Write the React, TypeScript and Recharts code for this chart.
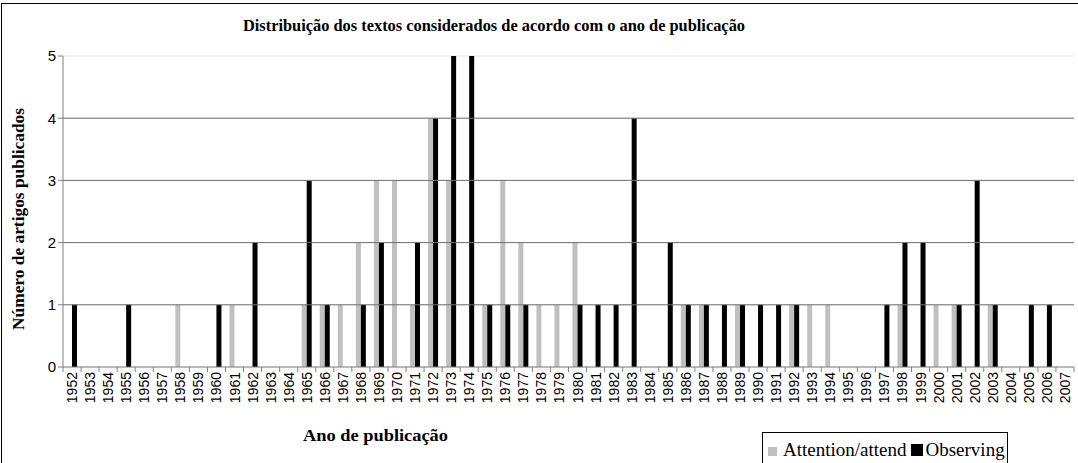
import React from 'react';
import { BarChart, Bar, XAxis, YAxis, CartesianGrid, ReferenceLine } from 'recharts';

const years = [
  '1952', '1953', '1954', '1955', '1956', '1957', '1958', '1959', '1960', '1961',
  '1962', '1963', '1964', '1965', '1966', '1967', '1968', '1969', '1970', '1971',
  '1972', '1973', '1974', '1975', '1976', '1977', '1978', '1979', '1980', '1981',
  '1982', '1983', '1984', '1985', '1986', '1987', '1988', '1989', '1990', '1991',
  '1992', '1993', '1994', '1995', '1996', '1997', '1998', '1999', '2000', '2001',
  '2002', '2003', '2004', '2005', '2006', '2007',
];

const attention = [
  0, 0, 0, 0, 0, 0, 1, 0, 0, 1,
  0, 0, 0, 1, 1, 1, 2, 3, 3, 1,
  4, 3, 0, 1, 3, 2, 1, 1, 2, 0,
  0, 0, 0, 0, 1, 1, 0, 1, 0, 0,
  1, 1, 1, 0, 0, 0, 1, 0, 1, 1,
  0, 1, 0, 0, 0, 0,
];

const observing = [
  1, 0, 0, 1, 0, 0, 0, 0, 1, 0,
  2, 0, 0, 3, 1, 0, 1, 2, 0, 2,
  4, 5, 5, 1, 1, 1, 0, 0, 1, 1,
  1, 4, 0, 2, 1, 1, 1, 1, 1, 1,
  1, 0, 0, 0, 0, 1, 2, 2, 0, 1,
  3, 1, 0, 1, 1, 0,
];

const yTicks = [0, 1, 2, 3, 4, 5];
const gridLines = [1, 2, 3, 4];

const chartData = years.map((year, i) => ({
  year,
  attention: attention[i],
  observing: observing[i],
}));

const W = 1078;
const H = 463;
const PLOT_LEFT = 63;
const PLOT_RIGHT = 1074;
const PLOT_TOP = 56;
const PLOT_BOTTOM = 367;
const BAND = (PLOT_RIGHT - PLOT_LEFT) / years.length;

const sans = '"Liberation Sans", Arial, sans-serif';
const serif = '"Liberation Serif", "Times New Roman", serif';

function YearTick(props: any) {
  const { x, payload, index } = props;
  const isLast = index === years.length - 1;
  return (
    <g>
      <line x1={x - BAND / 2} x2={x - BAND / 2} y1={PLOT_BOTTOM} y2={PLOT_BOTTOM + 5} stroke="#808080" />
      {isLast && (
        <line x1={x + BAND / 2} x2={x + BAND / 2} y1={PLOT_BOTTOM} y2={PLOT_BOTTOM + 5} stroke="#808080" />
      )}
      <text
        x={x + 5}
        y={PLOT_BOTTOM + 5}
        transform={`rotate(-90, ${x + 5}, ${PLOT_BOTTOM + 5})`}
        textAnchor="end"
        fontFamily={sans}
        fontSize={14}
        fill="#000"
      >
        {payload.value}
      </text>
    </g>
  );
}

function LegendBox() {
  return (
    <div
      style={{
        position: 'absolute',
        left: 762,
        top: 432,
        width: 246,
        height: 40,
        boxSizing: 'border-box',
        border: '1px solid #000',
        background: '#fff',
        fontFamily: serif,
        fontSize: 19,
        display: 'flex',
        alignItems: 'baseline',
        paddingTop: 6,
        paddingLeft: 5,
        color: '#000',
        lineHeight: '22px',
        whiteSpace: 'nowrap',
      }}
    >
      <span style={{ width: 9, height: 9, background: '#C0C0C0', display: 'inline-block', marginRight: 6 }} />
      <span>Attention/attend</span>
      <span style={{ width: 12, height: 12, background: '#000', display: 'inline-block', marginLeft: 5, marginRight: 2 }} />
      <span>Observing</span>
    </div>
  );
}

export default function App() {
  return (
    <div style={{ position: 'absolute', left: 0, top: 0, width: W, height: H, background: '#fff', overflow: 'hidden' }}>
      <div
        style={{
          position: 'absolute',
          left: 1,
          top: 3,
          width: W,
          height: H,
          borderTop: '1px solid #000',
          borderLeft: '1px solid #000',
        }}
      />
      <BarChart
        width={W}
        height={H}
        data={chartData}
        margin={{ top: PLOT_TOP, right: W - PLOT_RIGHT, left: 0, bottom: 0 }}
        barGap={0}
        barSize={5}
      >
        <CartesianGrid vertical={false} stroke="#e6e6e6" />
        <XAxis
          dataKey="year"
          interval={0}
          height={H - PLOT_BOTTOM}
          tickLine={false}
          axisLine={{ stroke: '#808080' }}
          tick={<YearTick />}
        />
        <YAxis
          width={PLOT_LEFT}
          domain={[0, 5]}
          ticks={yTicks}
          interval={0}
          tickSize={5}
          tickLine={{ stroke: '#808080' }}
          axisLine={{ stroke: '#808080' }}
          tick={{ fill: '#000', fontSize: 15, fontFamily: sans }}
        />
        {gridLines.map((v) => (
          <ReferenceLine key={v} y={v} stroke="#707070" />
        ))}
        <Bar dataKey="attention" name="Attention/attend" fill="#C0C0C0" isAnimationActive={false} />
        <Bar dataKey="observing" name="Observing" fill="#000000" isAnimationActive={false} />
      </BarChart>
      <LegendBox />
      <svg width={W} height={H} style={{ position: 'absolute', left: 0, top: 0, pointerEvents: 'none' }}>
        <text x={243} y={31} textLength={502} lengthAdjust="spacingAndGlyphs" fontFamily={serif} fontWeight="bold" fontSize={17}>
          Distribuição dos textos considerados de acordo com o ano de publicação
        </text>
        <text
          x={24}
          y={330}
          transform="rotate(-90, 24, 330)"
          textLength={222}
          lengthAdjust="spacingAndGlyphs"
          fontFamily={serif}
          fontWeight="bold"
          fontSize={16}
        >
          Número de artigos publicados
        </text>
        <text x={303} y={441} textLength={145} lengthAdjust="spacingAndGlyphs" fontFamily={serif} fontWeight="bold" fontSize={16}>
          Ano de publicação
        </text>
      </svg>
    </div>
  );
}
